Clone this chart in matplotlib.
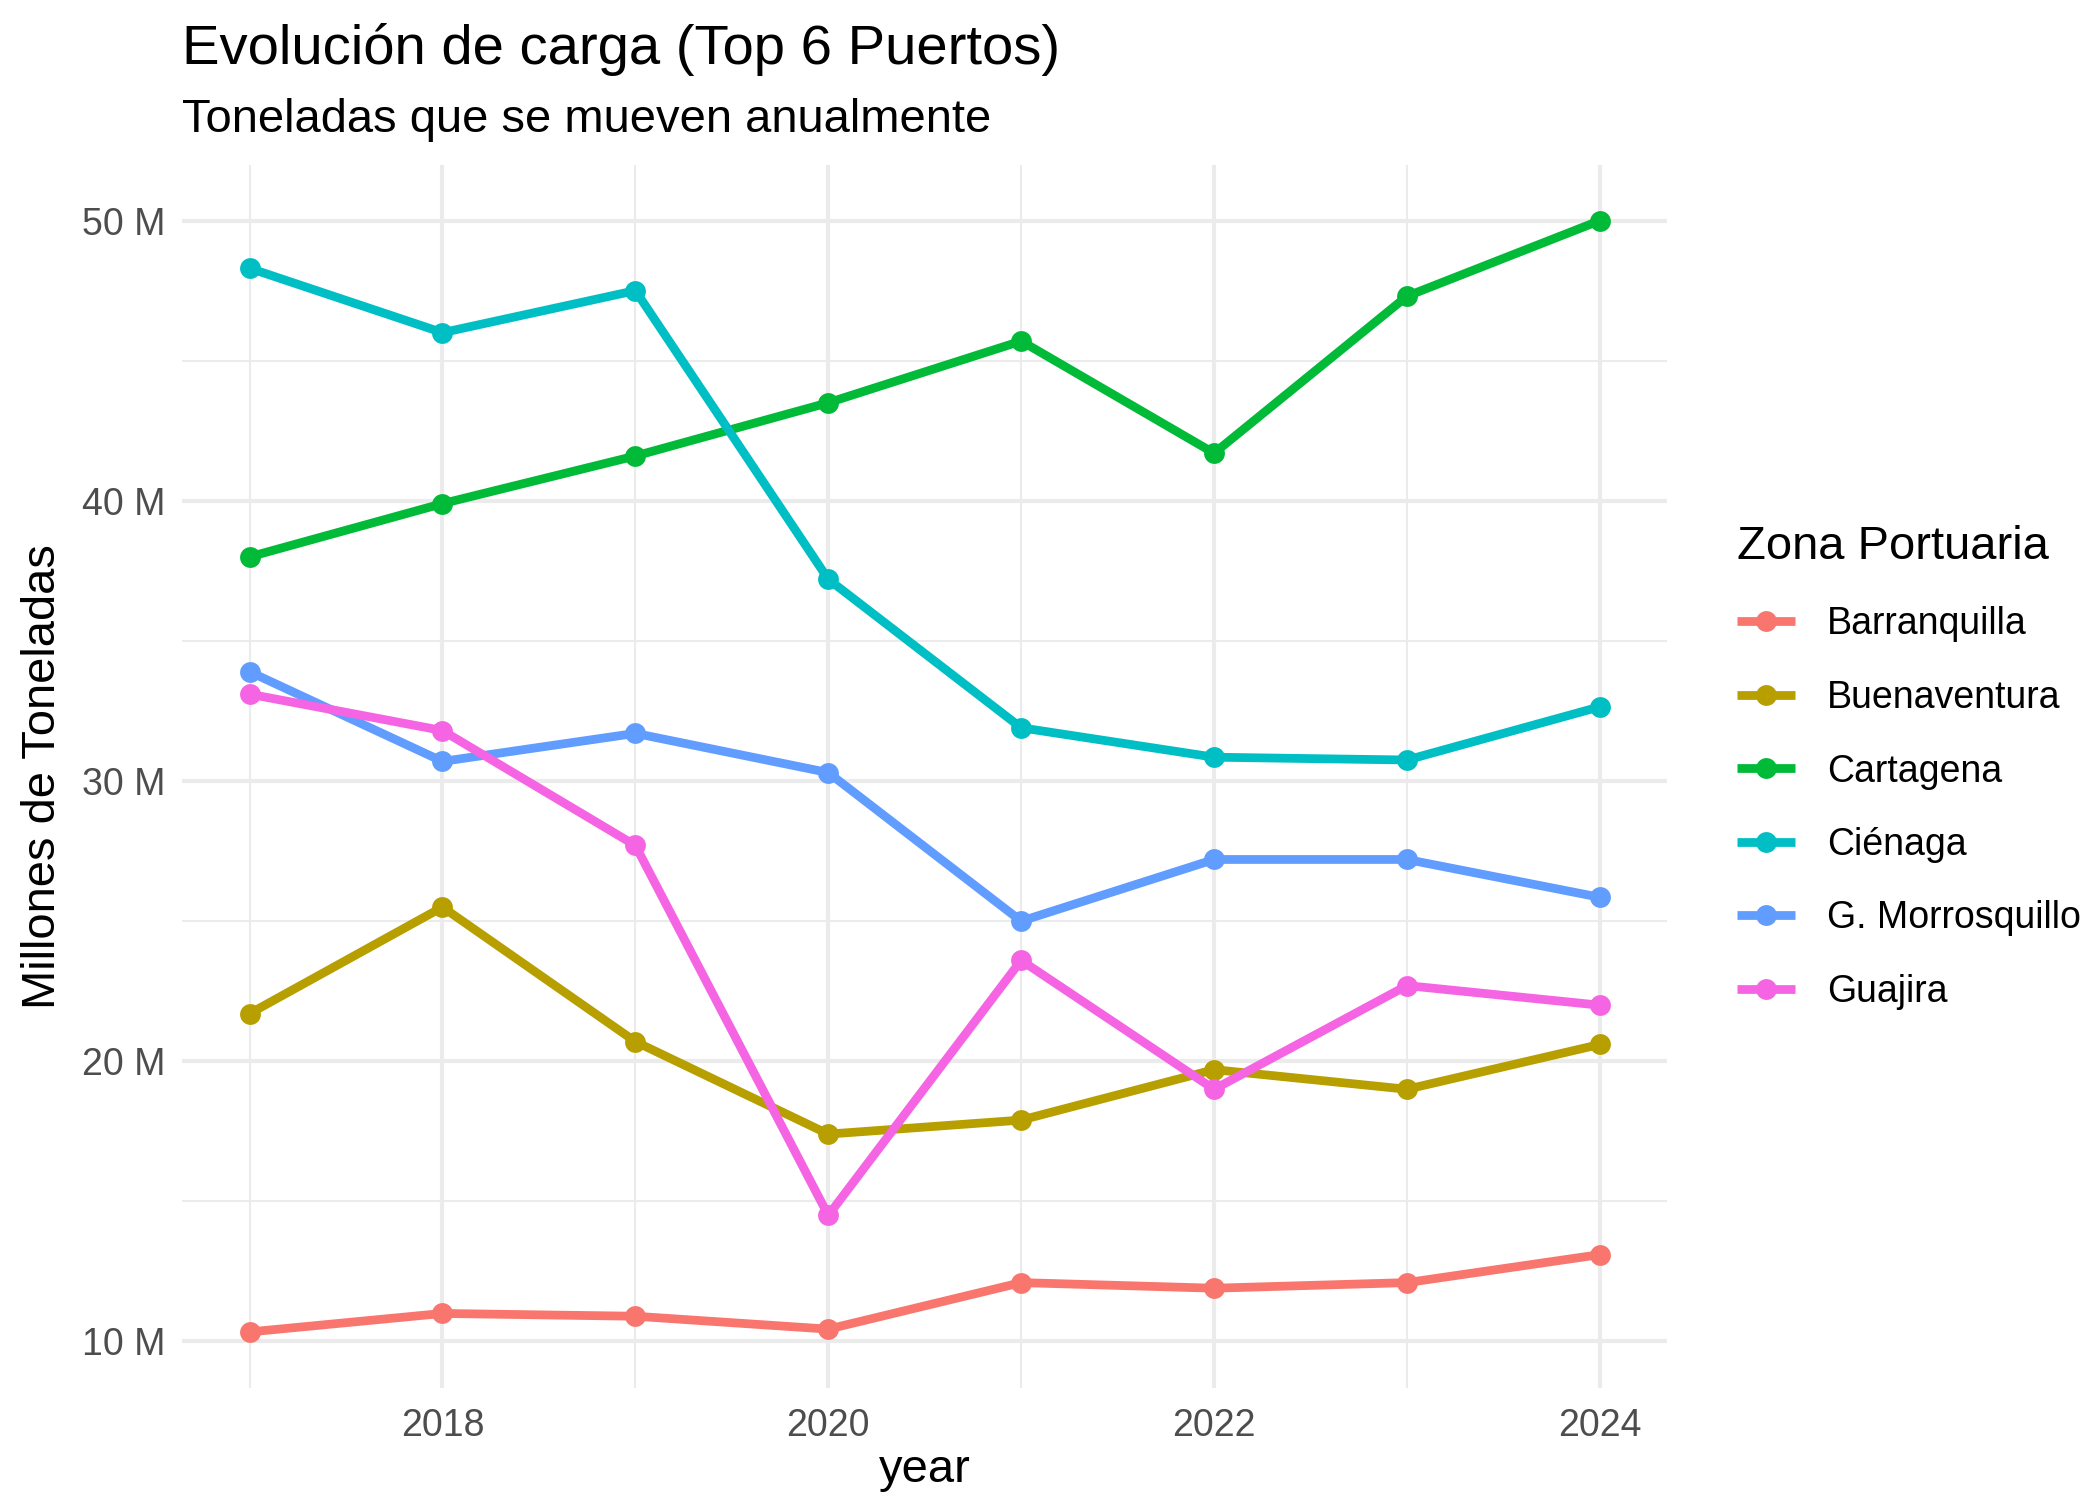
import matplotlib.pyplot as plt
import matplotlib.ticker as mticker
import numpy as np

plt.rcParams['font.family'] = ['Liberation Sans', 'DejaVu Sans']

years = [2017, 2018, 2019, 2020, 2021, 2022, 2023, 2024]
puertos = ["Barranquilla", "Buenaventura", "Cartagena", "Ciénaga", "G. Morrosquillo", "Guajira"]
colores = ["#F8766D", "#B79F00", "#00BA38", "#00BFC4", "#619CFF", "#F564E3"]

# millones de toneladas
barranquilla = [10.34, 11.0, 10.9, 10.44, 12.1, 11.9, 12.1, 13.1]
buenaventura = [21.7, 25.5, 20.7, 17.4, 17.9, 19.7, 19.0, 20.6]
cartagena = [38.0, 39.9, 41.6, 43.5, 45.7, 41.7, 47.3, 50.0]
cienaga = [48.3, 46.0, 47.5, 37.2, 31.9, 30.85, 30.75, 32.65]
morrosquillo = [33.9, 30.7, 31.7, 30.3, 25.0, 27.2, 27.2, 25.85]
guajira = [33.1, 31.8, 27.7, 14.5, 23.6, 19.0, 22.7, 22.0]

series = [barranquilla, buenaventura, cartagena, cienaga, morrosquillo, guajira]

fig = plt.figure(figsize=(7, 5), dpi=300)
ax = fig.add_axes([0.0867, 0.075, 0.794 - 0.0867, 0.890 - 0.075])

for nombre, vals, col in zip(puertos, series, colores):
    ax.plot(years, vals, color=col, lw=2.1, marker='o', markersize=5,
            markeredgewidth=0, label=nombre, solid_capstyle='butt')

allv = np.concatenate([np.array(s) for s in series])
lo, hi = allv.min(), allv.max()
pad = (hi - lo) * 0.05
ax.set_ylim(lo - pad, hi + pad)
ax.set_xlim(2017 - 0.35, 2024 + 0.35)

ax.yaxis.set_major_locator(mticker.MultipleLocator(10))
ax.yaxis.set_minor_locator(mticker.MultipleLocator(5))
ax.xaxis.set_major_locator(mticker.MultipleLocator(2))
ax.xaxis.set_minor_locator(mticker.MultipleLocator(1))
ax.yaxis.set_major_formatter(mticker.FuncFormatter(lambda v, p: f"{v:.0f} M"))

ax.grid(which='major', color='#EBEBEB', lw=1.0)
ax.grid(which='minor', color='#EBEBEB', lw=0.5)
ax.set_axisbelow(True)
for s in ax.spines.values():
    s.set_visible(False)
ax.tick_params(which='both', length=0, labelsize=9.0, labelcolor='#4D4D4D')
ax.tick_params(axis='x', pad=5)
ax.tick_params(axis='y', pad=4)

ax.set_xlabel("year", fontsize=11.3, labelpad=1)
ax.set_ylabel("Millones de Toneladas", fontsize=11.3, labelpad=4)

fig.text(0.0867, 0.957, "Evolución de carga (Top 6 Puertos)", fontsize=13.5,
         ha='left', va='baseline')
fig.text(0.0867, 0.912, "Toneladas que se mueven anualmente", fontsize=11.3,
         ha='left', va='baseline')

leg = ax.legend(loc='upper left', bbox_to_anchor=(0.827, 0.65),
                bbox_transform=fig.transFigure, frameon=False,
                title="Zona Portuaria", title_fontsize=11.3, fontsize=9.0,
                handlelength=1.55, handletextpad=0.85, labelspacing=1.0,
                borderaxespad=0, borderpad=0)
leg._legend_box.align = "left"

fig.savefig("out.png", dpi=300)
